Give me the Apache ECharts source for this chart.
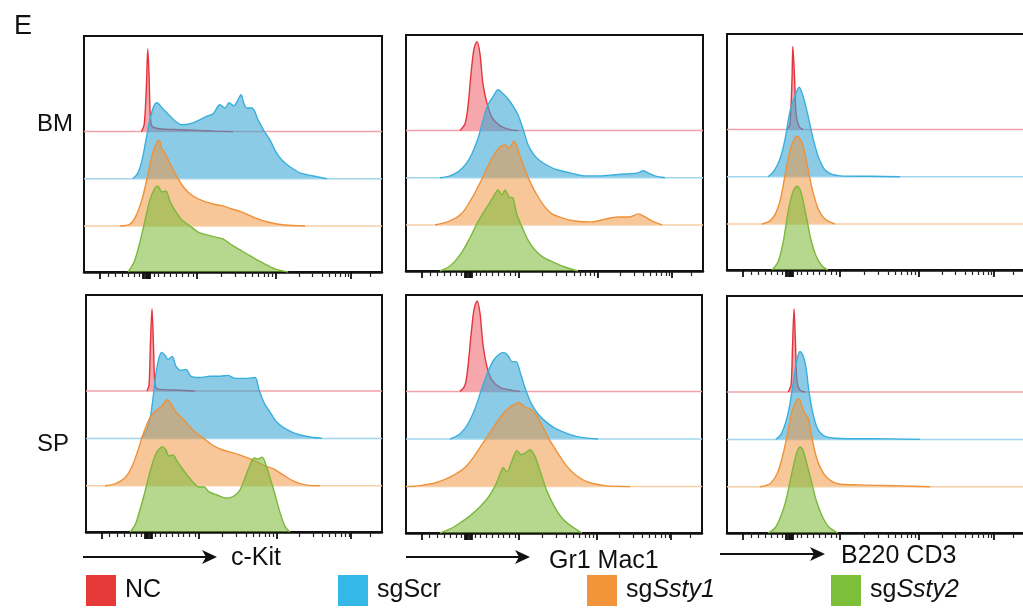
<!DOCTYPE html>
<html>
<head>
<meta charset="utf-8">
<title>BM / SP histograms</title>
<script src="https://cdn.jsdelivr.net/npm/echarts@6/dist/echarts.min.js"></script>
<style>
  html, body { margin: 0; padding: 0; background: #fff; }
  #chart { width: 1023px; height: 610px; }
</style>
</head>
<body>
<div id="chart"></div>
<script>
// groups, drawn from the top lane down
const groups = ['NC', 'sgScr', 'sgSsty1', 'sgSsty2']
const tissues = ['BM', 'SP']
const markers = ['c-Kit', 'Gr1 Mac1', 'B220 CD3']

// histogram outlines: [position on the fluorescence axis (0-100), height]
// BM, c-Kit
const bmKitNC = [[19.3,0],[20.2,3],[20.9,18],[21.4,35],[21.8,25],[22.2,8],[22.7,2.5],[24,1.5],[27,1],[32,0.8],[38,0.5],[44,0.2],[50,0]]
const bmKitScr = [[16.4,0],[18.1,2.5],[19.5,8],[20.8,16.5],[22.1,25],[23.5,31],[24.5,32.2],[26.2,30],[28.2,27.5],[30.5,24.6],[32.9,22.9],[35.6,23.3],[38.3,24.6],[40.9,26.3],[43.3,27.5],[45.6,31.4],[47.3,30],[48.7,32.2],[50.3,30.9],[51.7,33.5],[52.7,35.6],[53.7,31.8],[54.7,30],[56.4,30],[58.4,25],[60.4,20.3],[62.4,16.5],[64.4,11.4],[66.4,8],[69.1,5.1],[72.5,2.5],[76.5,1.3],[81.5,0]]
const bmKitSsty1 = [[12.1,0],[15.4,0.8],[17.4,4.2],[19.5,11.4],[21.1,19.9],[22.8,29.7],[24.2,34.7],[25.2,36.4],[26.2,32.6],[27.2,30.9],[28.9,26.3],[31.2,20.8],[33.9,15.7],[36.6,12.7],[39.9,10.6],[43.3,9.3],[46.6,8.5],[49.7,7.2],[53,5.9],[57.4,3.4],[61.7,1.7],[67.4,0.4],[74.2,0]]
const bmKitSsty2 = [[14.8,0],[16.8,4.2],[18.5,11.4],[20.5,22],[22.1,30.5],[23.8,35.6],[24.8,36.4],[26.2,33.9],[27.5,34.3],[28.9,29.7],[30.9,25.4],[32.9,22],[35.6,19.5],[38.3,16.9],[41.3,15.7],[44,14.8],[46.6,14],[49.7,11.4],[53,8.9],[56.4,6.4],[60.1,3.8],[64.1,1.3],[68.5,0]]
// BM, Gr1 Mac1
const bmGrNC = [[18.2,0],[19.9,3],[20.9,10.6],[21.9,24.2],[22.9,34.7],[23.9,37.7],[24.9,32.6],[25.9,19.9],[27.3,11.4],[29,5.5],[31.6,2.1],[35,0.4],[37.7,0]]
const bmGrScr = [[11.4,0],[14.8,0.8],[17.5,2.5],[20.2,5.9],[22.2,10.2],[24.2,16.5],[25.9,24.2],[27.6,30.9],[29.3,34.3],[31,37.3],[32.7,35.6],[34.3,33.5],[36,30.5],[37.7,26.7],[39.4,20.8],[41.1,14],[43.1,9.7],[45.1,7.2],[47.8,5.1],[50.8,3.4],[55.2,2.1],[60.3,0.8],[65.3,0.8],[70.4,1.3],[74.7,1.7],[78.1,2.1],[79.8,3],[81.5,2.1],[83.8,0.8],[87.2,0]]
const bmGrSsty1 = [[9.8,0],[14.8,1.7],[18.9,5.1],[22.2,11.4],[24.9,17.8],[27.6,25],[30,30.5],[31.6,33],[33.3,33.9],[34.7,32.6],[36.4,35.6],[38,30.5],[40.1,23.3],[42.1,17.4],[44.1,12.7],[46.5,8.1],[49.2,4.7],[52.5,3],[56.9,1.7],[62.6,1.3],[67,2.5],[71.4,3.4],[75.4,3.4],[78.1,4.7],[80.5,3.4],[82.8,1.7],[86.2,0]]
const bmGrSsty2 = [[11.4,0],[14.8,2.1],[18.2,6.8],[21.5,14],[24.2,20.8],[26.6,25.8],[28.3,29.2],[29.6,31.8],[31,34.3],[32.3,32.2],[33.3,34.3],[34.7,31.4],[36,30.9],[37.4,23.7],[39.1,18.6],[41.1,13.1],[43.4,8.9],[46.1,5.9],[49.5,3.8],[53.5,1.7],[57.9,0]]
// BM, B220 CD3
const bmCdNC = [[20.1,0],[21.1,2.1],[21.8,21],[22.1,35.2],[22.7,21],[23.2,6.4],[24.2,1.3],[25.5,0]]
const bmCdScr = [[13.8,0],[15.8,2.5],[17.8,7.6],[19.5,16.1],[21.1,27.5],[22.8,34.3],[24.2,38],[25.5,34.3],[27.2,25.8],[28.9,16.1],[30.9,7.6],[33.2,2.5],[37.9,0.4],[48,0.2],[58,0]]
const bmCdSsty1 = [[11.7,0],[14.4,1.3],[16.4,4.7],[18.1,11.4],[19.8,22.9],[21.5,32.6],[23.5,37.3],[25.2,34.3],[26.8,25.8],[28.5,15.3],[30.5,6.8],[32.9,2.1],[36.2,0]]
const bmCdSsty2 = [[15.1,0],[17.1,3.4],[18.8,11.4],[20.5,24.6],[22.1,33.1],[23.5,35.6],[24.8,33.1],[26.5,23.3],[28.2,12.7],[29.9,5.9],[31.9,1.7],[33.9,0]]
// SP, c-Kit
const spKitNC = [[20.6,0],[21.3,2.5],[21.8,21.5],[22.3,34.6],[22.8,19.4],[23.3,3],[24.3,0.8],[30.1,0.4],[36.8,0]]
const spKitScr = [[18.6,0],[20.3,3],[21.6,8],[22.6,16.5],[23.6,27],[24.7,34.2],[25.7,36.3],[26.7,35],[27.7,33.3],[29.1,34.6],[30.4,30.4],[32.1,28.7],[33.8,29.1],[35.5,26.2],[38.5,25.7],[41.9,26.2],[45.3,26.2],[48,26.6],[50.3,25.3],[53.7,25.3],[57.1,25.7],[58.4,20.7],[60.1,15.2],[62.2,11],[64.5,6.8],[67.2,4.2],[70.6,2.1],[74.7,0.8],[79.7,0]]
const spKitSsty1 = [[6.4,0],[9.8,0.8],[13.2,3.4],[15.5,8],[17.6,15.2],[19.6,22.8],[21.6,28.7],[23.6,31.6],[25.7,33.8],[27.4,36.3],[28.7,34.6],[30.4,31.2],[32.4,28.7],[34.5,25.7],[36.8,22.8],[39.5,20.3],[42.6,17.3],[45.9,15.2],[49.7,13.9],[53.7,12.2],[57.1,10.5],[60.5,8.4],[63.2,7.2],[66.6,4.6],[69.9,2.1],[74,0.4],[79,0]]
const spKitSsty2 = [[14.9,0],[16.6,3],[18.2,9.3],[19.9,16.9],[21.6,25.3],[23.3,32.1],[24.7,35],[26,35.9],[27,34.6],[28,32.1],[29.4,32.5],[30.7,30],[32.4,27],[34.1,24.1],[36.1,21.1],[38.2,19],[39.9,19],[41.6,16.9],[44.3,15.6],[47.6,14.3],[50,15.2],[52,17.7],[53.7,22.8],[55.4,28.3],[56.8,31.2],[58.1,30.8],[59.5,31.6],[60.8,28.3],[62.2,22.8],[63.9,15.6],[65.5,8.4],[67.2,2.5],[68.9,0]]
// SP, Gr1 Mac1
const spGrNC = [[18.2,0],[19.9,2.5],[20.9,10.1],[22,24.1],[23,34.6],[24,38],[25,32.9],[26,19.8],[27.4,10.1],[29.1,4.6],[31.8,1.7],[35.8,0.4],[38.5,0]]
const spGrScr = [[14.9,0],[18.2,2.1],[20.9,6.3],[23.3,12.7],[25.7,21.5],[27.7,28.3],[29.7,33.3],[31.8,35.9],[33.1,36.3],[34.5,35],[35.8,32.5],[37.2,32.5],[38.5,28.3],[40.2,21.5],[42.2,15.2],[44.6,10.5],[47.3,7.2],[50.3,4.6],[54.1,2.5],[58.8,0.8],[64.9,0]]
const spGrSsty1 = [[0.3,0],[4.7,0.4],[9.1,1.3],[13.2,3],[16.6,5.1],[19.9,8],[23,12.7],[25.7,17.7],[28.4,22.8],[31.1,27.8],[33.8,32.1],[36.1,34.2],[38.2,35.4],[40.2,33.3],[42.2,32.5],[44.3,29.5],[46.3,24.9],[48.6,19.4],[51.4,13.9],[54.1,8.9],[57.1,5.1],[61.1,2.1],[67.2,0.4],[75.7,0]]
const spGrSsty2 = [[11.5,0],[14.9,1.7],[18.2,4.2],[21.6,7.2],[25,11],[27.7,14.8],[30.1,19.8],[31.8,24.9],[32.8,27.4],[34.1,25.7],[35.8,30.4],[37.5,34.6],[38.9,32.9],[40.5,33.8],[41.9,35],[43.6,32.1],[45.6,24.9],[47.6,17.7],[50,11.4],[52.7,6.3],[55.7,3],[59.5,0]]
// SP, B220 CD3
const spCdNC = [[20.5,0],[21.5,3],[22,19.8],[22.5,35],[23,19.8],[23.5,4.2],[24.5,0.8],[26.2,0]]
const spCdScr = [[16.4,0],[18.1,2.1],[19.8,7.6],[21.1,14.8],[22.5,26.2],[23.5,33.8],[24.5,37.1],[25.5,35.4],[26.5,30.4],[27.5,20.3],[28.9,10.5],[30.5,4.2],[32.9,1.3],[37.9,0.4],[54.7,0.2],[64.8,0]]
const spCdSsty1 = [[11.1,0],[14.4,1.3],[16.8,5.5],[18.5,12.2],[20.1,21.1],[21.8,31.6],[23.2,36.3],[24.2,37.1],[25.2,33.8],[26.2,30.8],[27.2,29.1],[28.2,22.8],[29.5,14.8],[31.2,8.4],[33.6,3.8],[37.2,1.3],[44.6,0.8],[58.1,0.4],[68.1,0]]
const spCdSsty2 = [[13.8,0],[16.1,2.1],[18.1,7.2],[19.8,13.9],[21.1,21.5],[22.5,29.5],[23.5,34.2],[24.5,36.3],[25.5,35],[26.8,29.1],[28.2,22.4],[29.9,13.9],[31.9,7.2],[34.2,2.5],[37.2,0]]

// biexponential axis tick positions (no labels on the original)
const majorTicks = [5.4, 38, 64.5, 89.5]
const zeroTicks = [19.8, 20.2, 20.6, 21, 21.4, 21.8, 22.2]
const minorTicks = [8, 10.5, 13, 15, 17, 18.5, 23.5, 25, 27, 29, 31, 33, 35, 36.8,
  46, 50.6, 54, 56.5, 58.6, 60.4, 61.9, 63.3, 72.2, 76.7, 79.9, 82.3, 84.3, 86.1, 87.5, 88.8, 96]

const panels = [
  [bmKitNC, bmKitScr, bmKitSsty1, bmKitSsty2],
  [bmGrNC, bmGrScr, bmGrSsty1, bmGrSsty2],
  [bmCdNC, bmCdScr, bmCdSsty1, bmCdSsty2],
  [spKitNC, spKitScr, spKitSsty1, spKitSsty2],
  [spGrNC, spGrScr, spGrSsty1, spGrSsty2],
  [spCdNC, spCdScr, spCdSsty1, spCdSsty2]
]

// layout
const boxes = [
  { left: 84, top: 36, width: 298, height: 236 },
  { left: 406, top: 35, width: 297, height: 236 },
  { left: 727, top: 34, width: 298, height: 236 },
  { left: 86, top: 295, width: 296, height: 237 },
  { left: 406, top: 295, width: 296, height: 238 },
  { left: 727, top: 296, width: 298, height: 237 }
]
const laneBase = [59.5, 39.5, 19.5, 0]
const lineColors = ['#e4343c', '#3aafdd', '#ee9139', '#7bb83c']
const fillColors = ['rgba(232,60,70,0.45)', 'rgba(55,165,212,0.58)', 'rgba(240,148,60,0.52)', 'rgba(128,186,60,0.58)']
const baseColors = ['#f2a3aa', '#9fd6ee', '#f6cfa6', '#a9d47e']
const keyColors = ['#e53a38', '#33b8e8', '#f2953a', '#7ebf3a']
const FONT = '"Liberation Sans", Arial, sans-serif'

const grid = []
const xAxis = []
const yAxis = []
const series = []

boxes.forEach((b, p) => {
  grid.push({
    left: b.left, top: b.top, width: b.width, height: b.height,
    show: true, borderColor: '#111', borderWidth: 2,
    outerBoundsMode: 'none'
  })
  xAxis.push({
    gridIndex: p, type: 'value', min: 0, max: 100, position: 'bottom',
    axisLine: { show: true, onZero: false, lineStyle: { color: '#111', width: 2.5 } },
    axisTick: { show: true, customValues: majorTicks.concat(zeroTicks), length: 7, lineStyle: { color: '#111', width: 1.8 } },
    axisLabel: { show: false },
    splitLine: { show: false }
  })
  xAxis.push({
    gridIndex: p, type: 'value', min: 0, max: 100, position: 'bottom',
    axisLine: { show: false },
    axisTick: { show: true, customValues: minorTicks, length: 5, lineStyle: { color: '#222', width: 1.2 } },
    axisLabel: { show: false },
    splitLine: { show: false }
  })
  yAxis.push({ gridIndex: p, type: 'value', min: 0, max: 100, show: false })

  panels[p].forEach((curve, i) => {
    const base = laneBase[i]
    if (base > 0) {
      series.push({
        name: groups[i] + ' base', type: 'line', xAxisIndex: p * 2, yAxisIndex: p,
        data: [[0, base], [100, base]], symbol: 'none', silent: true, z: 2 + i,
        lineStyle: { color: baseColors[i], width: 1.5 }
      })
    }
    series.push({
      name: groups[i], type: 'line', xAxisIndex: p * 2, yAxisIndex: p,
      data: curve.map(d => [d[0], d[1] + base]),
      smooth: 0.3, symbol: 'none', silent: true, z: 2 + i,
      lineStyle: { color: lineColors[i], width: 1.4 },
      areaStyle: { color: fillColors[i], opacity: 1, origin: base }
    })
  })
})

function label(text, x, y, size) {
  return {
    type: 'text', x: x, y: y, z: 20,
    style: { text: text, font: size + 'px ' + FONT, fill: '#111', align: 'left', verticalAlign: 'middle', textAlign: 'left', textVerticalAlign: 'middle' }
  }
}

function arrow(x1, x2, y) {
  return [
    { type: 'line', shape: { x1: x1, y1: y, x2: x2 - 8, y2: y }, style: { stroke: '#111', lineWidth: 2.2 } },
    { type: 'polygon', shape: { points: [[x2 - 15, y - 7], [x2, y], [x2 - 15, y + 7], [x2 - 11, y]] }, style: { fill: '#111' } }
  ]
}

const graphic = [
  label('E', 14, 27, 27),
  label(tissues[0], 37, 124, 24),
  label(tissues[1], 37, 444, 24),
  ...arrow(83, 217, 557), label(markers[0], 231, 558, 25),
  ...arrow(406, 530, 557), label(markers[1], 549, 561, 25),
  ...arrow(720, 825, 554), label(markers[2], 841, 556, 25)
]

const keyX = [86, 338, 587, 831]
groups.forEach((g, i) => {
  graphic.push({ type: 'rect', shape: { x: keyX[i], y: 575, width: 30, height: 31 }, style: { fill: keyColors[i] } })
  const m = g.match(/^sg(Ssty\d)$/)
  const t = m ? '{n|sg}{i|' + m[1] + '}' : '{n|' + g + '}'
  graphic.push({
    type: 'text', x: keyX[i] + 39, y: 590,
    style: {
      text: t, align: 'left', verticalAlign: 'middle', textAlign: 'left', textVerticalAlign: 'middle',
      rich: {
        n: { font: '25px ' + FONT, fill: '#111' },
        i: { font: 'italic 25px ' + FONT, fill: '#111' }
      }
    }
  })
})

const chart = echarts.init(document.getElementById('chart'), null, { renderer: 'canvas' })
chart.setOption({
  animation: false,
  backgroundColor: '#fff',
  grid: grid,
  xAxis: xAxis,
  yAxis: yAxis,
  series: series,
  graphic: graphic
})
</script>
</body>
</html>
